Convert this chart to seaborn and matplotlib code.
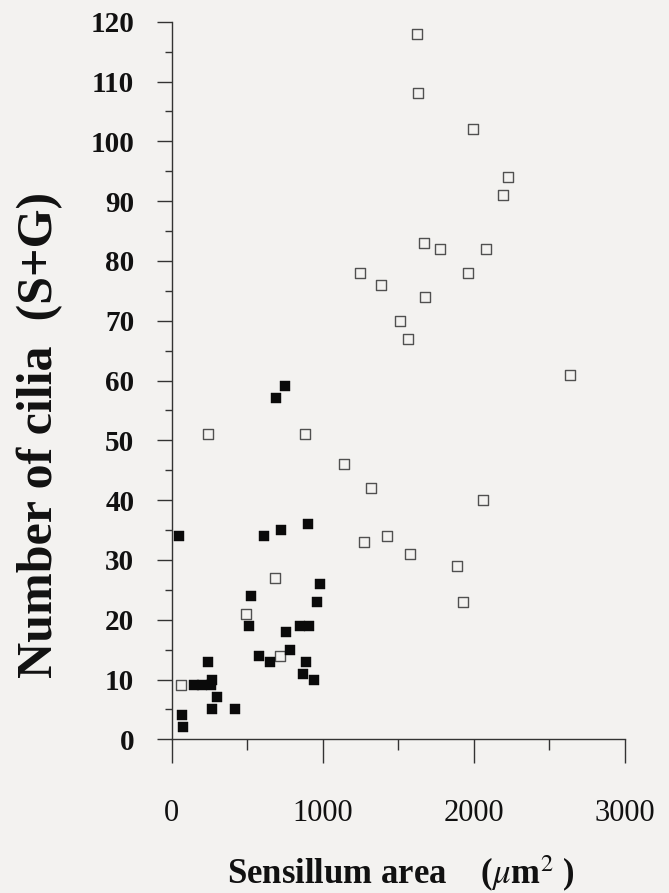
import matplotlib
matplotlib.use("Agg")
import matplotlib.pyplot as plt
import seaborn as sns
import pandas as pd
from matplotlib.ticker import MultipleLocator

# Data
filled_x = [754, 694, 52, 612, 725, 902, 980, 528, 960, 510, 758, 853, 913,
            577, 654, 782, 893, 871, 942, 244, 150, 205, 262, 267, 300, 267,
            422, 68, 78]
filled_y = [59, 57, 34, 34, 35, 36, 26, 24, 23, 19, 18, 19, 19,
            14, 13, 15, 13, 11, 10, 13, 9, 9, 9, 10, 7, 5,
            5, 4, 2]
open_x = [1623, 1632, 1995, 2227, 2196, 1670, 1780, 2081, 1250, 1964, 1389,
          1677, 1515, 1564, 2636, 244, 885, 1144, 1323, 2059, 1272, 1427,
          1581, 1887, 1931, 683, 493, 716, 63]
open_y = [118, 108, 102, 94, 91, 83, 82, 82, 78, 78, 76,
          74, 70, 67, 61, 51, 51, 46, 42, 40, 33, 34,
          31, 29, 23, 27, 21, 14, 9]

x_ticks = [0, 1000, 2000, 3000]
y_ticks = [0, 10, 20, 30, 40, 50, 60, 70, 80, 90, 100, 110, 120]

sns.set_theme(style="ticks")
bg = "#f3f2f0"
plt.rcParams["font.family"] = ["Liberation Serif", "DejaVu Serif"]
plt.rcParams["mathtext.fontset"] = "stix"

df_f = pd.DataFrame({"x": filled_x, "y": filled_y})
df_o = pd.DataFrame({"x": open_x, "y": open_y})

fig = plt.figure(figsize=(6.69, 8.93), dpi=100, facecolor=bg)
ax = fig.add_axes([171.5 / 669, 1 - 739.3 / 893,
                   (624.7 - 171.5) / 669, (739.3 - 21.7) / 893])
ax.set_facecolor(bg)

sns.scatterplot(data=df_o, x="x", y="y", ax=ax, marker="s", s=52,
                facecolor="none", edgecolor="#505050", linewidth=1.0,
                clip_on=False, zorder=3)
sns.scatterplot(data=df_f, x="x", y="y", ax=ax, marker="s", s=62,
                color="#0a0a0a", edgecolor="#0a0a0a", linewidth=0.3,
                clip_on=False, zorder=4)

ax.set_xlim(0, 3000)
ax.set_ylim(0, 120)
ax.set_xticks(x_ticks)
ax.set_yticks(y_ticks)
ax.xaxis.set_minor_locator(MultipleLocator(500))
ax.yaxis.set_minor_locator(MultipleLocator(5))
ax.set_xticklabels([str(v) for v in x_ticks], fontsize=22)
ax.set_yticklabels([str(v) for v in y_ticks], fontsize=21, fontweight="bold")

for s in ["top", "right"]:
    ax.spines[s].set_visible(False)
for s in ["left", "bottom"]:
    ax.spines[s].set_color("#333333")
    ax.spines[s].set_linewidth(1.0)

ax.tick_params(axis="x", which="major", direction="out", length=17.3,
               width=1.0, color="#333333", pad=26, labelcolor="#111111")
ax.tick_params(axis="x", which="minor", direction="out", length=8,
               width=1.0, color="#333333")
ax.tick_params(axis="y", which="major", direction="out", length=10.8,
               width=1.0, color="#333333", pad=16, labelcolor="#111111")
ax.tick_params(axis="y", which="minor", direction="out", length=5,
               width=1.0, color="#333333")

ax.set_xlabel("")
ax.set_ylabel("")

fig.text(401 / 669, 1 - 884 / 893, r"Sensillum area    ($\mu$m$^2$ )",
         ha="center", va="baseline", fontsize=25, fontweight="bold",
         color="#111111")
fig.text(40 / 669, 1 - 435 / 893, "Number of cilia  (S+G)",
         ha="center", va="center", rotation=90, fontsize=36,
         fontweight="bold", color="#111111")

fig.savefig("out.png", dpi=100, facecolor=bg)
